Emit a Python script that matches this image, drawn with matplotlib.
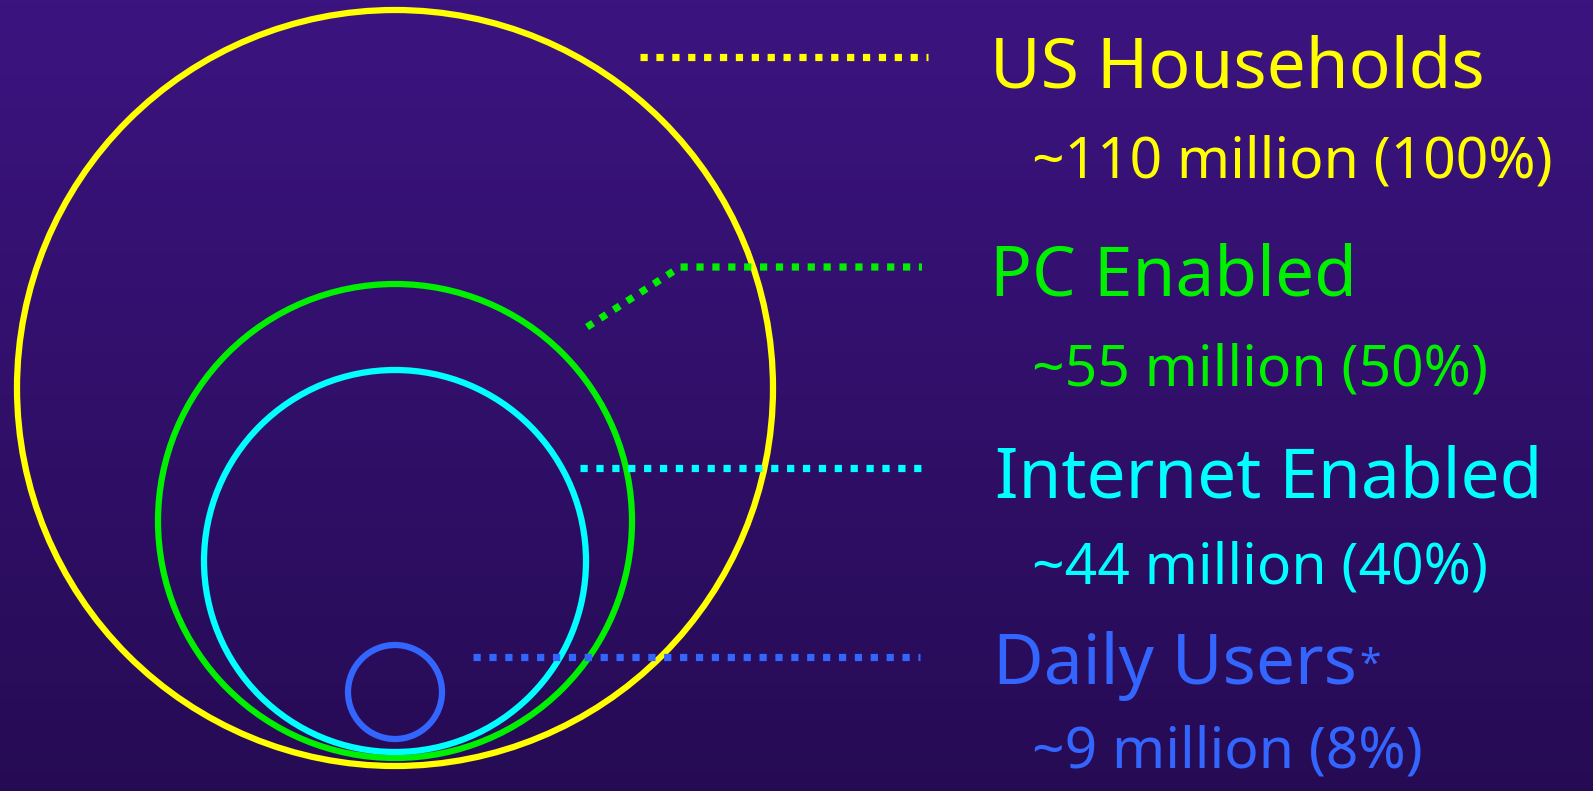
import matplotlib.pyplot as plt
import numpy as np
from matplotlib.patches import Circle

# Data
groups = ["US Households", "PC Enabled", "Internet Enabled", "Daily Users"]
millions = [110, 55, 44, 9]
shares = [100, 50, 40, 8]
colors = ["#FFFF00", "#00F000", "#00FFFF", "#3366FF"]

# Layout in pixels (figure is 1593 x 791)
W, H = 1593, 791
circle_cy = [388, 521, 561, 692]
circle_r = [378, 237, 191, 47]
cx = 395
leaders = [  # x points, y points
    ([640, 928], [57, 57]),
    ([587, 680, 922], [327, 267, 267]),
    ([580, 928], [468, 468]),
    ([473, 920], [657, 657]),
]
title_y = [88, 296, 497, 684]
title_x = [990, 990, 995, 993]
sub_y = [178, 385, 583, 768]

plt.rcParams['font.family'] = ['Noto Sans', 'DejaVu Sans']

fig = plt.figure(figsize=(W / 100, H / 100), dpi=100)
ax = fig.add_axes([0, 0, 1, 1])
ax.set_xlim(0, W)
ax.set_ylim(H, 0)
ax.axis('off')

# background gradient
top = np.array([60, 20, 128]) / 255
bot = np.array([38, 11, 84]) / 255
t = np.linspace(0, 1, 256)[:, None]
grad = top + (bot - top) * t
ax.imshow(grad[:, None, :].repeat(2, axis=1), extent=[0, W, H, 0], aspect='auto', zorder=0)

titles = []
for i, name in enumerate(groups):
    ax.add_patch(Circle((cx, circle_cy[i]), circle_r[i], fill=False,
                        edgecolor=colors[i], linewidth=4.5, zorder=2))
    xs, ys = leaders[i]
    ax.plot(xs, ys, color=colors[i], linewidth=5.2, dashes=(1, 1.2),
            solid_capstyle='butt', dash_capstyle='butt', zorder=3)
    titles.append(ax.text(title_x[i], title_y[i], name, color=colors[i], fontsize=50,
                          va='baseline', ha='left'))
    ax.text(1032, sub_y[i], f"~{millions[i]} million ({shares[i]}%)",
            color=colors[i], fontsize=41, va='baseline', ha='left')

# asterisk after "Daily Users"
ax.annotate("*", xy=(1, 0.5), xycoords=titles[3], xytext=(2, 0),
            textcoords='offset points', color=colors[3], fontsize=28,
            va='center', ha='left')

fig.savefig("out.png", dpi=100)
